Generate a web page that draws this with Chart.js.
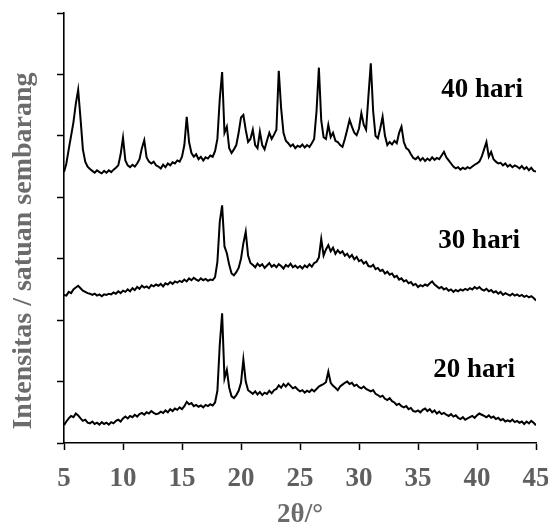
<!DOCTYPE html>
<html>
<head>
<meta charset="utf-8">
<script src="https://cdn.jsdelivr.net/npm/chart.js@4.4.1/dist/chart.umd.min.js"></script>
<style>
html,body{margin:0;padding:0;background:#fff;}
canvas{display:block;}
</style>
</head>
<body>
<canvas id="c" width="548" height="529"></canvas>
<script>
// 2θ positions (degrees)
const twoTheta = [
5.0,5.2,5.4,5.6,5.8,6.0,6.2,6.4,6.6,6.8,
7.0,7.2,7.4,7.6,7.8,8.0,8.2,8.4,8.6,8.8,
9.0,9.2,9.4,9.6,9.8,10.0,10.2,10.4,10.6,10.8,
11.0,11.2,11.4,11.6,11.8,12.0,12.2,12.4,12.6,12.8,
13.0,13.2,13.4,13.6,13.8,14.0,14.2,14.4,14.6,14.8,
15.0,15.2,15.4,15.6,15.8,16.0,16.2,16.4,16.6,16.8,
17.0,17.2,17.4,17.6,17.8,18.0,18.2,18.4,18.6,18.8,
19.0,19.2,19.4,19.6,19.8,20.0,20.2,20.4,20.6,20.8,
21.0,21.2,21.4,21.6,21.8,22.0,22.2,22.4,22.6,22.8,
23.0,23.2,23.4,23.6,23.8,24.0,24.2,24.4,24.6,24.8,
25.0,25.2,25.4,25.6,25.8,26.0,26.2,26.4,26.6,26.8,
27.0,27.2,27.4,27.6,27.8,28.0,28.2,28.4,28.6,28.8,
29.0,29.2,29.4,29.6,29.8,30.0,30.2,30.4,30.6,30.8,
31.0,31.2,31.4,31.6,31.8,32.0,32.2,32.4,32.6,32.8,
33.0,33.2,33.4,33.6,33.8,34.0,34.2,34.4,34.6,34.8,
35.0,35.2,35.4,35.6,35.8,36.0,36.2,36.4,36.6,36.8,
37.0,37.2,37.4,37.6,37.8,38.0,38.2,38.4,38.6,38.8,
39.0,39.2,39.4,39.6,39.8,40.0,40.2,40.4,40.6,40.8,
41.0,41.2,41.4,41.6,41.8,42.0,42.2,42.4,42.6,42.8,
43.0,43.2,43.4,43.6,43.8,44.0,44.2,44.4,44.6,44.8,
45.0
];

// intensities (arbitrary units, stacked traces)
const hari40 = [
4.41,4.55,4.78,5.00,5.22,5.52,5.75,5.28,4.78,4.58,
4.50,4.46,4.43,4.40,4.44,4.41,4.39,4.43,4.40,4.44,
4.41,4.45,4.48,4.52,4.70,4.97,4.60,4.52,4.49,4.53,
4.50,4.55,4.62,4.80,4.93,4.65,4.58,4.55,4.58,4.52,
4.50,4.47,4.53,4.49,4.55,4.52,4.57,4.55,4.60,4.58,
4.66,4.85,5.31,4.90,4.72,4.66,4.70,4.62,4.66,4.60,
4.65,4.63,4.68,4.66,4.75,4.95,5.60,6.04,5.05,5.15,
4.80,4.72,4.78,4.85,5.05,5.30,5.34,5.10,4.90,4.95,
5.10,4.85,4.80,5.07,4.85,4.78,4.92,5.05,4.95,5.02,
5.10,6.06,5.45,5.05,4.92,4.88,4.83,4.86,4.80,4.84,
4.82,4.86,4.81,4.85,4.82,4.88,4.95,5.40,6.11,5.25,
4.98,4.95,5.18,4.98,5.05,4.92,4.90,4.85,4.82,4.95,
5.10,5.26,5.15,5.05,5.01,5.12,5.37,5.18,5.10,5.65,
6.18,5.40,5.00,4.96,5.12,5.31,5.00,4.85,4.90,4.86,
4.92,4.88,5.05,5.15,4.90,4.80,4.77,4.70,4.64,4.62,
4.66,4.60,4.64,4.59,4.63,4.60,4.65,4.61,4.64,4.62,
4.68,4.74,4.65,4.60,4.55,4.50,4.47,4.49,4.45,4.48,
4.46,4.49,4.47,4.50,4.53,4.55,4.58,4.66,4.78,4.90,
4.66,4.74,4.62,4.58,4.55,4.56,4.52,4.55,4.50,4.53,
4.49,4.52,4.50,4.47,4.51,4.46,4.49,4.44,4.48,4.43,
4.42
];

const hari30 = [
2.41,2.40,2.46,2.44,2.50,2.53,2.56,2.52,2.48,2.46,
2.44,2.43,2.41,2.43,2.40,2.42,2.39,2.42,2.41,2.43,
2.42,2.45,2.43,2.47,2.44,2.48,2.46,2.50,2.47,2.52,
2.49,2.54,2.51,2.56,2.53,2.55,2.52,2.57,2.55,2.58,
2.56,2.59,2.55,2.60,2.58,2.62,2.59,2.63,2.61,2.64,
2.62,2.66,2.63,2.68,2.65,2.69,2.66,2.64,2.68,2.65,
2.67,2.64,2.66,2.65,2.70,2.95,3.60,3.87,3.20,3.09,
2.90,2.76,2.73,2.78,2.85,3.00,3.25,3.44,3.05,2.93,
2.90,2.86,2.92,2.88,2.91,2.85,2.89,2.93,2.87,2.90,
2.86,2.91,2.88,2.84,2.90,2.87,2.92,2.86,2.89,2.85,
2.88,2.84,2.89,2.86,2.91,2.87,2.93,2.95,3.02,3.32,
3.05,3.15,3.22,3.12,3.18,3.08,3.14,3.09,3.12,3.05,
3.08,3.02,3.06,2.99,3.03,2.96,2.98,2.92,2.95,2.88,
2.87,2.90,2.83,2.85,2.80,2.82,2.76,2.79,2.74,2.76,
2.70,2.72,2.66,2.68,2.63,2.65,2.60,2.62,2.57,2.59,
2.54,2.57,2.55,2.58,2.56,2.60,2.63,2.58,2.55,2.52,
2.54,2.50,2.52,2.48,2.50,2.46,2.49,2.47,2.50,2.48,
2.51,2.49,2.52,2.50,2.54,2.51,2.54,2.50,2.48,2.51,
2.47,2.49,2.45,2.47,2.43,2.46,2.41,2.44,2.42,2.40,
2.43,2.40,2.42,2.39,2.41,2.38,2.40,2.37,2.39,2.36,
2.32
];

const hari20 = [
0.29,0.35,0.40,0.44,0.42,0.48,0.45,0.40,0.36,0.38,
0.33,0.32,0.35,0.31,0.33,0.30,0.34,0.31,0.33,0.30,
0.34,0.32,0.36,0.38,0.35,0.40,0.43,0.40,0.44,0.42,
0.46,0.43,0.47,0.49,0.46,0.50,0.48,0.52,0.49,0.47,
0.48,0.51,0.49,0.53,0.50,0.55,0.52,0.56,0.54,0.58,
0.55,0.60,0.67,0.63,0.65,0.60,0.62,0.59,0.61,0.58,
0.62,0.60,0.63,0.61,0.66,0.85,1.60,2.11,1.05,1.19,
0.90,0.76,0.73,0.78,0.85,0.98,1.36,1.00,0.86,0.83,
0.80,0.84,0.79,0.83,0.78,0.82,0.80,0.85,0.81,0.86,
0.88,0.94,0.90,0.96,0.92,0.97,0.93,0.89,0.91,0.87,
0.84,0.86,0.82,0.85,0.83,0.87,0.84,0.88,0.92,0.94,
0.96,0.99,1.16,0.98,0.93,0.90,0.86,0.92,0.95,0.98,
1.00,0.96,0.98,0.93,0.95,0.91,0.89,0.92,0.88,0.86,
0.84,0.86,0.80,0.78,0.75,0.77,0.72,0.70,0.73,0.68,
0.66,0.62,0.64,0.60,0.58,0.60,0.55,0.57,0.52,0.51,
0.53,0.50,0.54,0.56,0.52,0.55,0.50,0.53,0.48,0.51,
0.47,0.49,0.46,0.44,0.47,0.43,0.45,0.41,0.39,0.42,
0.38,0.40,0.42,0.44,0.41,0.45,0.48,0.46,0.44,0.42,
0.45,0.41,0.43,0.39,0.41,0.37,0.39,0.35,0.37,0.35,
0.38,0.34,0.36,0.33,0.35,0.31,0.35,0.32,0.36,0.33,
0.29
];

const seriesNames = ['40 hari', '30 hari', '20 hari'];
const seriesLabelX = [40.44, 40.19, 39.76];
const seriesLabelY = [5.63, 3.17, 1.07];
const xTitle = '2θ/°';
const yTitle = 'Intensitas / satuan sembarang';

const FONT = "'Liberation Serif', 'Times New Roman', serif";

function toPoints(ys) { return twoTheta.map((x, i) => ({ x: x, y: ys[i] })); }

const labelPlugin = {
  id: 'labels',
  afterDraw(chart) {
    const ctx = chart.ctx;
    const xs = chart.scales.x, ys = chart.scales.y;
    ctx.save();
    ctx.fillStyle = '#000';
    ctx.font = 'bold 27px ' + FONT;
    ctx.textAlign = 'center';
    ctx.textBaseline = 'alphabetic';
    seriesNames.forEach((n, i) => {
      ctx.fillText(n, xs.getPixelForValue(seriesLabelX[i]), ys.getPixelForValue(seriesLabelY[i]));
    });
    ctx.restore();
    ctx.save();
    ctx.fillStyle = '#6b6b6b';
    ctx.font = 'bold 28px ' + FONT;
    ctx.translate(24, (chart.chartArea.top + chart.chartArea.bottom) / 2 + 23);
    ctx.rotate(-Math.PI / 2);
    ctx.textAlign = 'center';
    ctx.textBaseline = 'middle';
    ctx.fillText(yTitle, 0, 0);
    ctx.restore();
  }
};

const lineDs = (label, ys) => ({
  label: label,
  data: toPoints(ys),
  borderColor: '#000',
  borderWidth: 2,
  pointRadius: 0,
  tension: 0,
  fill: false
});

new Chart(document.getElementById('c'), {
  type: 'line',
  data: {
    datasets: [
      lineDs(seriesNames[0], hari40),
      lineDs(seriesNames[1], hari30),
      lineDs(seriesNames[2], hari20)
    ]
  },
  options: {
    responsive: false,
    animation: false,
    layout: { padding: { top: 13, right: 12, left: 0, bottom: 0 } },
    plugins: { legend: { display: false }, tooltip: { enabled: false } },
    scales: {
      x: {
        type: 'linear',
        min: 5, max: 45,
        ticks: { stepSize: 5, padding: 13, color: '#5f5f5f', font: { family: FONT, size: 27, weight: 'bold' }, autoSkip: false, maxRotation: 0 },
        grid: { drawOnChartArea: false, drawTicks: true, tickLength: 7, tickColor: '#000', tickWidth: 1.5 },
        border: { display: true, color: '#000', width: 1.6 },
        title: { display: true, text: xTitle, color: '#6b6b6b', font: { family: FONT, size: 27, weight: 'bold', lineHeight: 1.0 }, padding: { top: 0, bottom: 0 } },
        afterFit(s) { s.height = 86; s.paddingLeft = 0; s.paddingRight = 0; }
      },
      y: {
        type: 'linear',
        min: 0, max: 7,
        ticks: { stepSize: 1, display: false },
        grid: { drawOnChartArea: false, drawTicks: true, tickLength: 7, tickColor: '#000', tickWidth: 1.5 },
        border: { display: true, color: '#000', width: 1.6 },
        afterFit(s) { s.width = 64; s.paddingTop = 0; s.paddingBottom = 0; }
      }
    }
  },
  plugins: [labelPlugin]
});
</script>
</body>
</html>
